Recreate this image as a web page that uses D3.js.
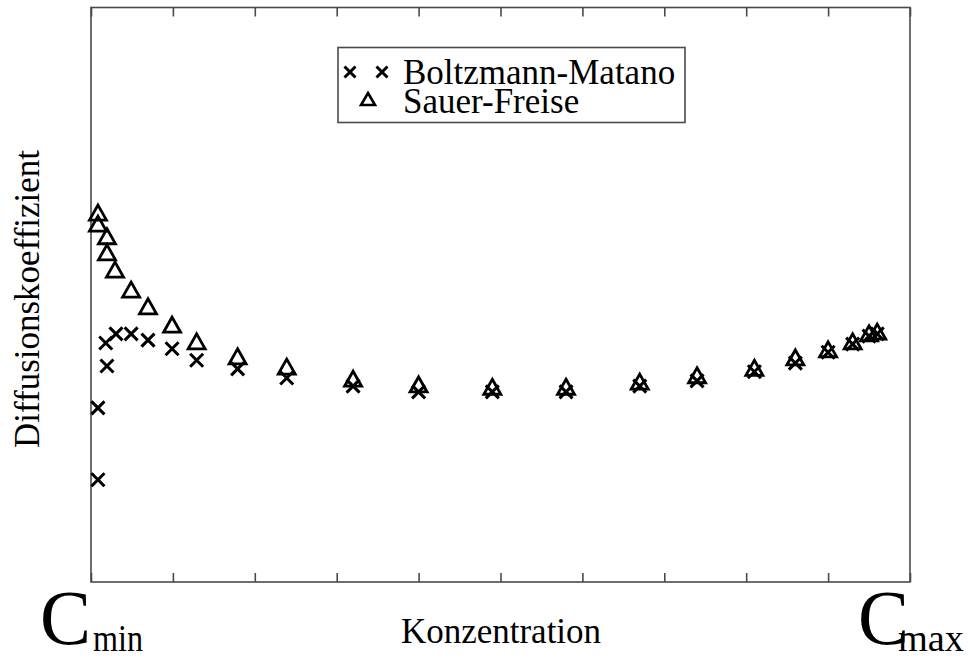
<!DOCTYPE html>
<html><head><meta charset="utf-8">
<script src="https://cdn.jsdelivr.net/npm/d3@7"></script>
<style>body{margin:0;background:#fff}svg{display:block}text{font-family:"Liberation Serif","DejaVu Serif",serif;fill:#000}</style>
</head><body>
<svg id="c" width="969" height="661"></svg>
<script>
// Concentration (fraction between Cmin and Cmax) and diffusion coefficient (arbitrary units)
const bmConc = [0.0085,0.0085,0.0195,0.018,0.0305,0.049,0.0696,0.099,0.129,0.179,0.239,0.32,0.40,0.49,0.58,0.67,0.74,0.81,0.86,0.90,0.93,0.95,0.96];
const bmD    = [1.78,3.03,3.76,4.16,4.32,4.32,4.21,4.06,3.86,3.71,3.55,3.41,3.31,3.31,3.31,3.41,3.50,3.66,3.81,4.00,4.14,4.28,4.32];
const sfConc = [0.0085,0.0085,0.0195,0.0195,0.0293,0.049,0.0696,0.099,0.129,0.179,0.239,0.32,0.40,0.49,0.58,0.67,0.74,0.81,0.86,0.90,0.93,0.95,0.96];
const sfD    = [6.42,6.23,6.01,5.73,5.43,5.08,4.79,4.47,4.18,3.92,3.74,3.53,3.43,3.39,3.39,3.48,3.59,3.72,3.90,4.04,4.18,4.32,4.35];
const xTicks = [0,0.1,0.2,0.3,0.4,0.5,0.6,0.7,0.8,0.9,1.0];
const seriesNames = ["Boltzmann-Matano","Sauer-Freise"];

const svg = d3.select("#c");
const L=91,R=910,T=7.5,B=582;
const x = d3.scaleLinear().domain([0,1]).range([L,R]);
const y = d3.scaleLinear().domain([0,10]).range([B,T]);
const axisColor="#4a4a4a";

// frame
svg.append("rect").attr("x",L).attr("y",T).attr("width",R-L).attr("height",B-T)
  .attr("fill","none").attr("stroke",axisColor).attr("stroke-width",1.6);

// ticks bottom & top (inward)
const bAx = d3.axisBottom(x).tickValues(xTicks).tickSize(-9).tickFormat("");
const gB = svg.append("g").attr("transform",`translate(0,${B})`).call(bAx);
const tAx = d3.axisTop(x).tickValues(xTicks).tickSize(-9).tickFormat("");
const gT = svg.append("g").attr("transform",`translate(0,${T})`).call(tAx);
[gB,gT].forEach(g=>{g.select(".domain").remove();g.selectAll("line").attr("stroke",axisColor).attr("stroke-width",1.6);});

function crossPath(s){return `M${-s},${-s}L${s},${s}M${-s},${s}L${s},${-s}`;}
function triPath(w,h){return `M0,${-h*2/3}L${w/2},${h/3}L${-w/2},${h/3}Z`;}

const bm = bmConc.map((c,i)=>({c,d:bmD[i]}));
const sf = sfConc.map((c,i)=>({c,d:sfD[i]}));

svg.append("g").selectAll("path").data(sf).join("path")
  .attr("d",triPath(17,15))
  .attr("transform",d=>`translate(${x(d.c)},${y(d.d)+2})`)
  .attr("fill","none").attr("stroke","#000").attr("stroke-width",2.8).attr("stroke-linejoin","miter");
svg.append("g").selectAll("path").data(bm).join("path")
  .attr("d",crossPath(6.5))
  .attr("transform",d=>`translate(${x(d.c)},${y(d.d)})`)
  .attr("fill","none").attr("stroke","#000").attr("stroke-width",3);

// legend
const lg = svg.append("g");
lg.append("rect").attr("x",338).attr("y",47.5).attr("width",347).attr("height",75)
  .attr("fill","#fff").attr("stroke",axisColor).attr("stroke-width",1.6);
[350,382].forEach(px=>lg.append("path").attr("d",crossPath(5.5)).attr("transform",`translate(${px},72)`)
  .attr("fill","none").attr("stroke","#000").attr("stroke-width",3));
lg.append("path").attr("d",triPath(14,12)).attr("transform",`translate(368,101)`)
  .attr("fill","none").attr("stroke","#000").attr("stroke-width",2.6);
lg.append("text").attr("x",403).attr("y",84).attr("font-size",35).text(seriesNames[0]);
lg.append("text").attr("x",403).attr("y",113).attr("font-size",35).text(seriesNames[1]);

// axis labels
svg.append("text").attr("x",501).attr("y",643).attr("text-anchor","middle").attr("font-size",35).text("Konzentration");
svg.append("text").attr("transform","translate(39,299) rotate(-90)").attr("text-anchor","middle").attr("font-size",35).text("Diffusionskoeffizient");

function bigC(px, sub, subX, subLen){
  svg.append("text").attr("x",px).attr("y",644).attr("font-size",78).attr("textLength",51).attr("lengthAdjust","spacingAndGlyphs").text("C");
  svg.append("text").attr("x",subX).attr("y",651).attr("font-size",38)
    .attr("textLength",subLen).attr("lengthAdjust","spacingAndGlyphs").text(sub);
}
bigC(40,"min",93,50);
bigC(858,"max",898,66);
</script>
</body></html>
